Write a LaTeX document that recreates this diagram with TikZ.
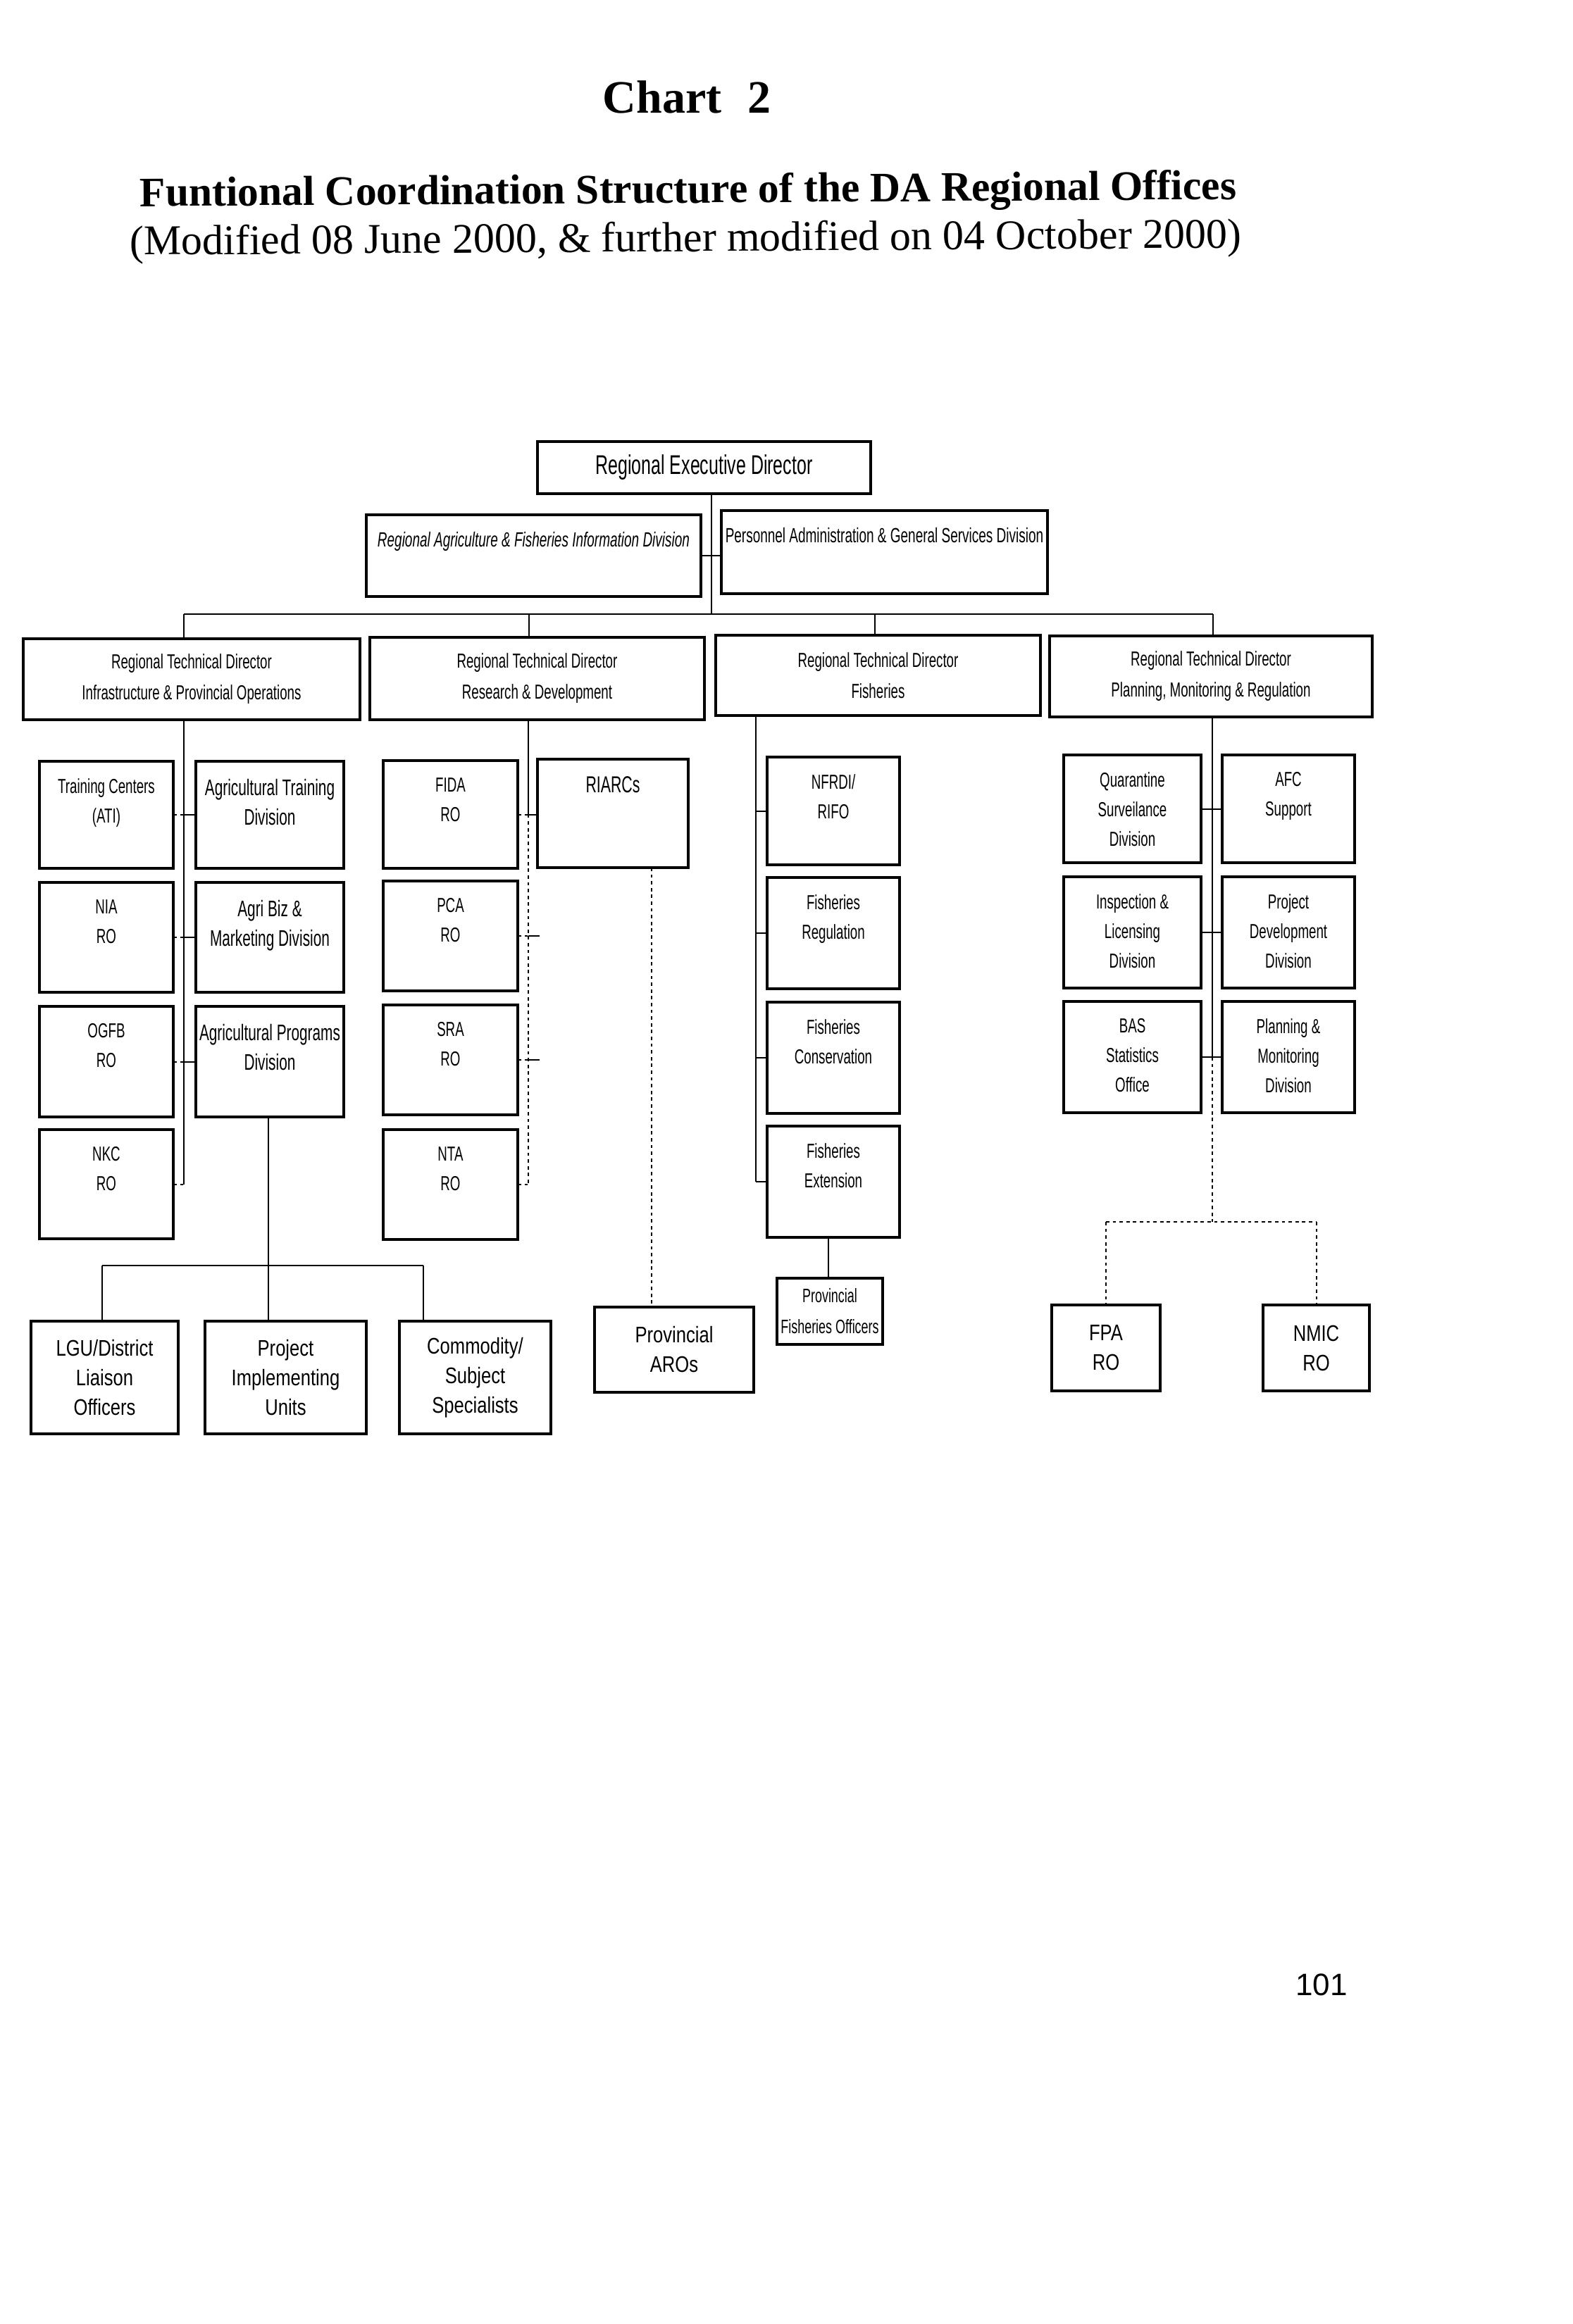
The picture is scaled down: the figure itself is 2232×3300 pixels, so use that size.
\documentclass[tikz,border=0pt]{standalone}
\usepackage{fontspec}
\setmainfont{Liberation Serif}
\newfontfamily\cfa[FakeStretch=0.65]{Liberation Sans}
\newfontfamily\cfb[FakeStretch=0.8]{Liberation Sans}
\newfontfamily\pgnum{Liberation Sans}
\newcommand\bx[7][]{\node[box,#1,minimum width={(#5-#3)*0.25pt},minimum height={(#6-#4)*0.25pt}] (#2) at ({(#3+#5)/2},{(#4+#6)/2}) {#7};}
\newcommand\tx[3][]{\node[stxt,#1] (#2-t) at ([yshift=-6pt]#2.north) {#3};}
\begin{document}
\begin{tikzpicture}[x=0.25pt,y=-0.25pt,
  box/.style={draw,line width=0.8pt,inner sep=0pt,outer sep=0pt,align=center},
  stxt/.style={anchor=north,inner sep=0pt,align=center,font={\cfa\fontsize{7.2}{10.5}\selectfont}},
  big/.style={font={\cfa\fontsize{8}{10.5}\selectfont}},
  rtdf/.style={font={\cfa\fontsize{7.2}{11}\selectfont}},
  lowf/.style={font={\cfb\fontsize{8}{10.5}\selectfont}},
  conn/.style={line width=0.5pt},
  dots/.style={line width=0.5pt,dash pattern=on 1.2pt off 1.2pt}]
\fill[white] (0,0) rectangle (2232,3300);
\useasboundingbox (0,0) rectangle (2232,3300);

% titles
\node[anchor=base,inner sep=0pt,font={\bfseries\fontsize{16.5}{18}\selectfont}] (t1) at (975,160) {Chart\hspace{5pt} 2};
\node[anchor=base,inner sep=0pt,rotate=0.37,font={\bfseries\fontsize{14.9}{16}\selectfont}] (t2) at (977,288) {Funtional Coordination Structure of the DA Regional Offices};
\node[anchor=base,inner sep=0pt,rotate=0.37,font={\fontsize{15}{17}\selectfont}] (t3) at (973,357) {(Modified 08 June 2000, \& further modified on 04 October 2000)};

% top level
\bx[font={\cfa\fontsize{9.6}{11}\selectfont}]{red}{763}{627}{1236}{701}{Regional Executive Director}
\bx{rafid}{520}{731}{995}{847}{}
\bx{pagsd}{1024}{725}{1487}{843}{}
\tx[font={\cfa\itshape\fontsize{7.3}{10}\selectfont}]{rafid}{Regional Agriculture \& Fisheries Information Division}
\tx[font={\cfa\fontsize{7.3}{10}\selectfont}]{pagsd}{Personnel Administration \& General Services Division}

\bx[rtdf]{rtd1}{33}{907}{511}{1022}{Regional Technical Director\\Infrastructure \& Provincial Operations}
\bx[rtdf]{rtd2}{525}{905}{1000}{1022}{Regional Technical Director\\Research \& Development}
\bx[rtdf]{rtd3}{1016}{902}{1477}{1016}{Regional Technical Director\\Fisheries}
\bx[rtdf]{rtd4}{1490}{903}{1948}{1018}{Regional Technical Director\\Planning, Monitoring \& Regulation}

% column 1 and 2
\bx{ati}{56}{1081}{246}{1233}{}
\bx{nia}{56}{1253}{246}{1409}{}
\bx{ogfb}{56}{1429}{246}{1586}{}
\bx{nkc}{56}{1604}{246}{1759}{}
\bx{agt}{278}{1081}{488}{1233}{}
\bx{abm}{278}{1253}{488}{1409}{}
\bx{agp}{278}{1429}{488}{1586}{}
\tx{ati}{Training Centers\\(ATI)}
\tx{nia}{NIA\\RO}
\tx{ogfb}{OGFB\\RO}
\tx{nkc}{NKC\\RO}
\tx[big]{agt}{Agricultural Training\\Division}
\tx[big]{abm}{Agri Biz \&\\Marketing Division}
\tx[big]{agp}{Agricultural Programs\\Division}

% column 3 and RIARCs
\bx{fida}{544}{1080}{735}{1233}{}
\bx{pca}{544}{1251}{735}{1407}{}
\bx{sra}{544}{1427}{735}{1583}{}
\bx{nta}{544}{1604}{735}{1760}{}
\bx{riarc}{763}{1078}{977}{1232}{}
\tx{fida}{FIDA\\RO}
\tx{pca}{PCA\\RO}
\tx{sra}{SRA\\RO}
\tx{nta}{NTA\\RO}
\tx[font={\cfa\fontsize{8.2}{10.5}\selectfont}]{riarc}{RIARCs}

% fisheries
\bx{nfr}{1089}{1075}{1277}{1228}{}
\bx{freg}{1089}{1246}{1277}{1404}{}
\bx{fcon}{1089}{1423}{1277}{1581}{}
\bx{fext}{1089}{1599}{1277}{1757}{}
\tx{nfr}{NFRDI/\\RIFO}
\tx{freg}{Fisheries\\Regulation}
\tx{fcon}{Fisheries\\Conservation}
\tx{fext}{Fisheries\\Extension}

% planning, monitoring & regulation
\bx{qua}{1510}{1072}{1705}{1225}{}
\bx{afc}{1735}{1072}{1923}{1225}{}
\bx{ins}{1510}{1245}{1705}{1403}{}
\bx{pdd}{1735}{1245}{1923}{1403}{}
\bx{bas}{1510}{1422}{1705}{1580}{}
\bx{pmd}{1735}{1422}{1923}{1580}{}
\tx{qua}{Quarantine\\Surveilance\\Division}
\tx{afc}{AFC\\Support}
\tx{ins}{Inspection \&\\Licensing\\Division}
\tx{pdd}{Project\\Development\\Division}
\tx{bas}{BAS\\Statistics\\Office}
\tx{pmd}{Planning \&\\Monitoring\\Division}

% bottom boxes
\bx[lowf]{lgu}{44}{1876}{253}{2036}{LGU/District\\Liaison\\Officers}
\bx[lowf]{piu}{291}{1876}{520}{2036}{Project\\Implementing\\Units}
\bx[lowf]{com}{567}{1876}{782}{2036}{Commodity/\\Subject\\Specialists}
\bx[lowf]{aro}{844}{1856}{1070}{1977}{Provincial\\AROs}
\bx[font={\cfa\fontsize{6.9}{11}\selectfont}]{pfo}{1103}{1815}{1253}{1909}{Provincial\\Fisheries Officers}
\bx[lowf]{fpa}{1493}{1853}{1647}{1975}{FPA\\RO}
\bx[lowf]{nmic}{1793}{1853}{1944}{1975}{NMIC\\RO}

% page number
\node[anchor=base,inner sep=0pt,font={\pgnum\fontsize{11}{13}\selectfont}] (pg) at (1876,2833) {101};

% connectors: top
\coordinate (tk) at (1010,872);
\draw[conn] (red.south -| tk) -- (tk);
\draw[conn] (rafid.east) -- (rafid.east -| pagsd.west);
\coordinate (hL) at (261,872);
\coordinate (h2) at (751,872);
\coordinate (h3) at (1242,872);
\coordinate (hR) at (1722,872);
\draw[conn] (hL) -- (hR);
\draw[conn] (hL) -- (hL |- rtd1.north);
\draw[conn] (h2) -- (h2 |- rtd2.north);
\draw[conn] (h3) -- (h3 |- rtd3.north);
\draw[conn] (hR) -- (hR |- rtd4.north);

% column 1
\coordinate (c1) at (261,0);
\draw[conn] (rtd1.south -| c1) -- (nkc.east -| c1);
\foreach \a/\b in {ati/agt,nia/abm,ogfb/agp}{
  \draw[dots] (\a.east) -- (\a.east -| c1);
  \draw[conn] (\a.east -| c1) -- (\b.west);}
\draw[dots] (nkc.east) -- (nkc.east -| c1);

% lower group
\coordinate (b1) at (145,1797);
\coordinate (b2) at (381,1797);
\coordinate (b3) at (601,1797);
\draw[conn] (agp.south -| b2) -- (b2 |- piu.north);
\draw[conn] (b1) -- (b3);
\draw[conn] (b1) -- (b1 |- lgu.north);
\draw[conn] (b3) -- (b3 |- com.north);

% column 2
\coordinate (c2) at (750,0);
\draw[conn] (rtd2.south -| c2) -- (fida.east -| c2);
\draw[dots] (fida.east -| c2) -- (nta.east -| c2);
\draw[dots] (fida.east) -- (fida.east -| c2);
\draw[conn] (fida.east -| c2) -- (fida.east -| riarc.west);
\coordinate (pk) at (766,1329);
\coordinate (sk) at (766,1505);
\draw[dots] (pca.east) -- (pca.east -| c2);
\draw[conn] (pca.east -| c2) -- (pk);
\draw[dots] (sra.east) -- (sra.east -| c2);
\draw[conn] (sra.east -| c2) -- (sk);
\draw[dots] (nta.east) -- (nta.east -| c2);
\coordinate (c4) at (925,0);
\draw[dots] (riarc.south -| c4) -- (aro.north -| c4);

% fisheries
\coordinate (c3) at (1073,0);
\draw[conn] (rtd3.south -| c3) -- (fext.west -| c3);
\foreach \a in {nfr,freg,fcon,fext}{\draw[conn] (\a.west -| c3) -- (\a.west);}
\coordinate (c5) at (1176,0);
\draw[conn] (fext.south -| c5) -- (pfo.north -| c5);

% planning column
\coordinate (c6) at (1721,1735);
\draw[conn] (rtd4.south -| c6) -- (bas.east -| c6);
\draw[dots] (bas.east -| c6) -- (c6);
\foreach \a/\b in {qua/afc,ins/pdd,bas/pmd}{\draw[conn] (\a.east) -- (\b.west);}
\draw[dots] (c6 -| fpa.north) -- (c6 -| nmic.north);
\draw[dots] (c6 -| fpa.north) -- (fpa.north);
\draw[dots] (c6 -| nmic.north) -- (nmic.north);
\end{tikzpicture}
\end{document}
